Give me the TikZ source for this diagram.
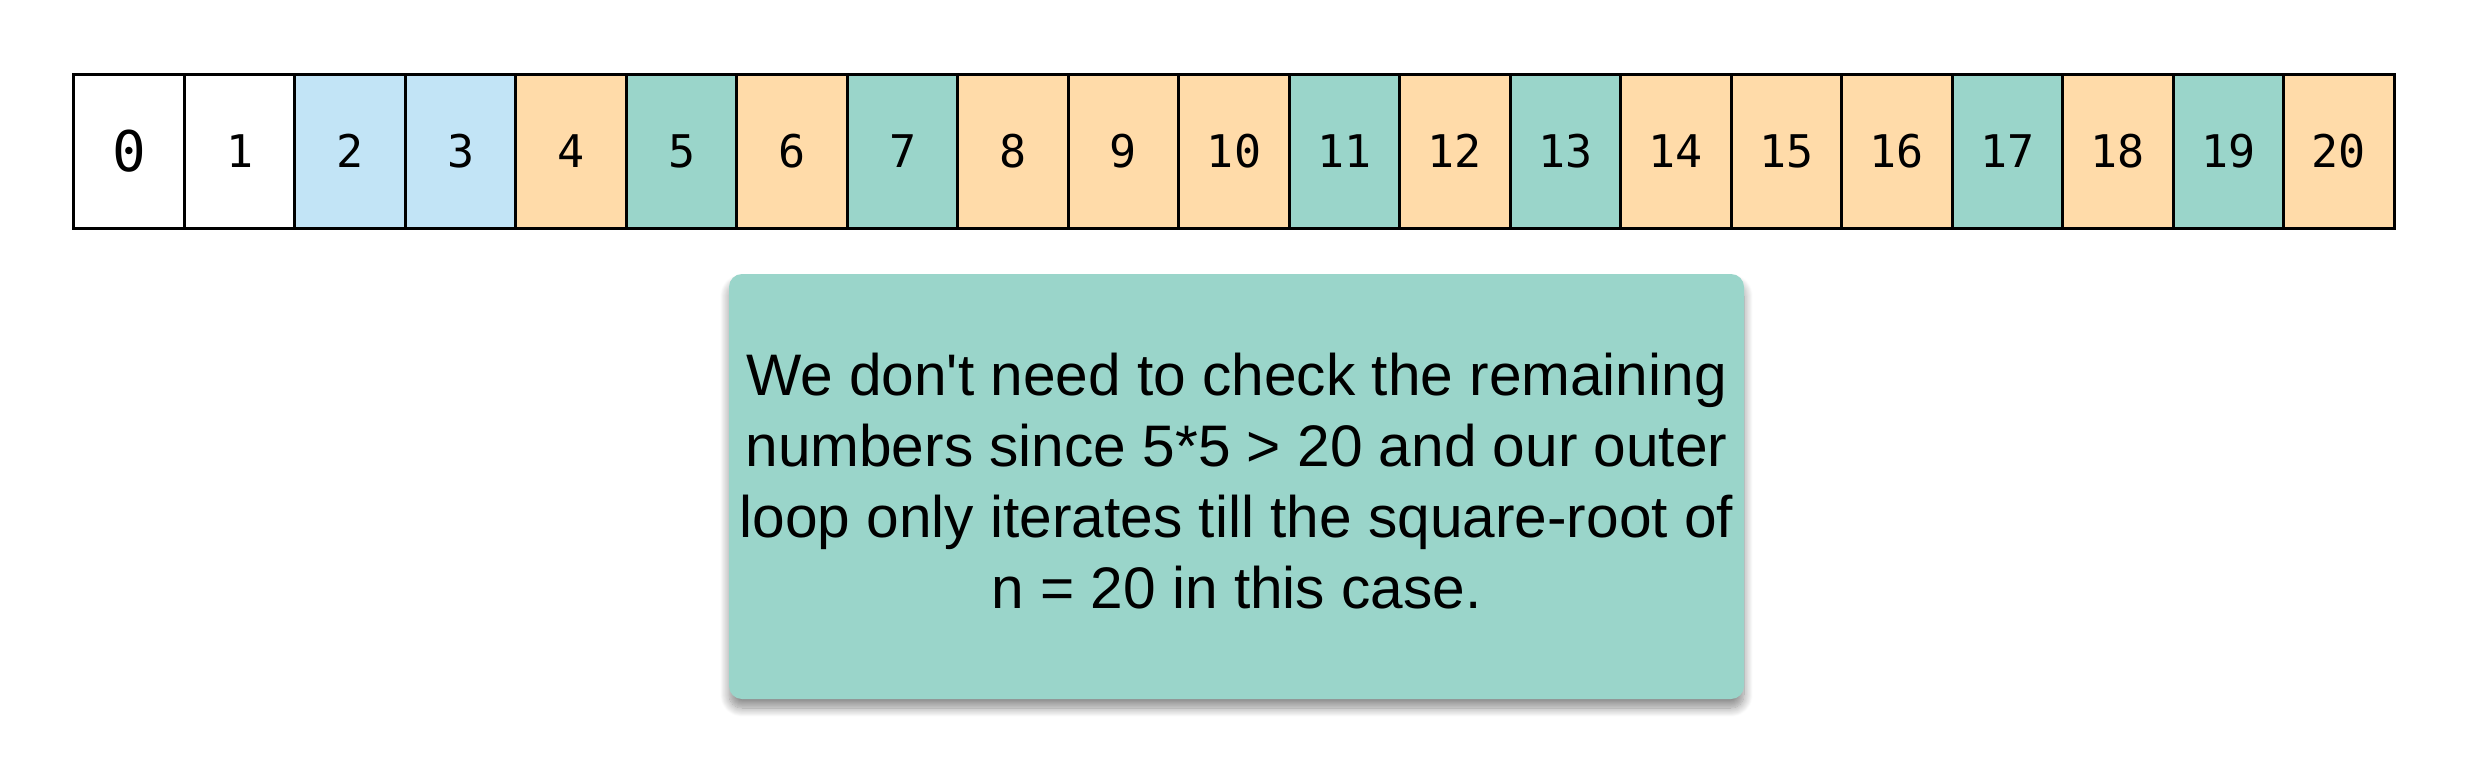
\documentclass[tikz,border=0pt]{standalone}
\usepackage{fontspec}
\setmainfont{Liberation Sans}
\newfontfamily\cellfont{DejaVu Sans Mono}
\usetikzlibrary{shadows.blur}
\definecolor{cblue}{HTML}{C2E4F6}
\definecolor{corange}{HTML}{FFDBA9}
\definecolor{cteal}{HTML}{9AD5CA}
\tikzset{
  cell/.style={draw=black, line width=3pt, minimum width=110.48pt, minimum height=154pt, inner sep=0pt, font=\cellfont\fontsize{45}{54}\selectfont},
  notebox/.style={fill=cteal, rounded corners=13pt, minimum width=1015pt, minimum height=425pt, inner sep=0pt,
    blur shadow={shadow xshift=0pt, shadow yshift=-9pt, shadow blur radius=9pt, shadow blur steps=12, shadow opacity=45}},
  notetext/.style={align=center, inner sep=0pt, font=\fontsize{58.6}{70.7}\selectfont}
}
\begin{document}
\begin{tikzpicture}[x=1pt,y=-1pt]
\useasboundingbox (0,0) rectangle (2471,774);
\foreach \i/\c in {0/white,1/white,2/cblue,3/cblue,4/corange,5/cteal,6/corange,7/cteal,8/corange,9/corange,10/corange,11/cteal,12/corange,13/cteal,14/corange,15/corange,16/corange,17/cteal,18/corange,19/cteal,20/corange}{
  \ifnum\i=0
    \node[cell, fill=\c, font=\cellfont\fontsize{56}{60}\selectfont] (c\i) at ({74+110.476*(\i+0.5)},151) {\i};
  \else
    \node[cell, fill=\c] (c\i) at ({74+110.476*(\i+0.5)},151) {\i};
  \fi
}
\node[notebox] (note) at (1236.5,486.5) {};
\node[notetext] (notetxt) at (1236.5,481) {We don\textquotesingle t need to check the remaining\\numbers since 5*5 > 20 and our outer\\loop only iterates till the square-root of\\n = 20 in this case.};
\end{tikzpicture}
\end{document}
